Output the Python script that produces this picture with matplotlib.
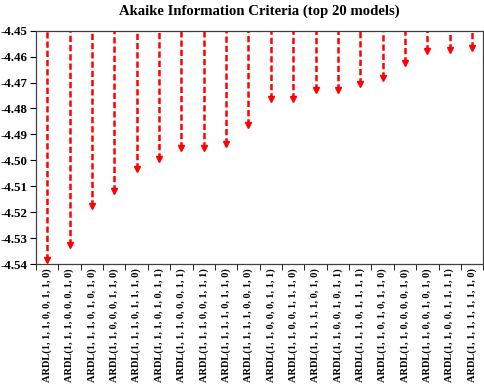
import numpy as np
from matplotlib import pyplot as plt

#=============+
# Chart data  |
#=============+
models = ['ARDL(1, 1, 1, 0, 0, 1, 1, 0)', 'ARDL(1, 1, 1, 0, 0, 0, 1, 0)',
          'ARDL(1, 1, 1, 0, 1, 0, 1, 0)', 'ARDL(1, 1, 0, 0, 0, 1, 1, 0)',
          'ARDL(1, 1, 1, 0, 1, 1, 1, 0)', 'ARDL(1, 1, 1, 0, 1, 0, 1, 1)',
          'ARDL(1, 1, 1, 0, 0, 0, 1, 1)', 'ARDL(1, 1, 1, 0, 0, 1, 1, 1)',
          'ARDL(1, 1, 1, 1, 0, 1, 1, 0)', 'ARDL(1, 1, 1, 1, 0, 0, 1, 0)',
          'ARDL(1, 1, 0, 0, 0, 1, 1, 1)', 'ARDL(1, 1, 0, 0, 1, 1, 1, 0)',
          'ARDL(1, 1, 1, 1, 1, 0, 1, 0)', 'ARDL(1, 1, 0, 0, 1, 0, 1, 1)',
          'ARDL(1, 1, 1, 0, 1, 1, 1, 1)', 'ARDL(1, 1, 0, 1, 0, 1, 1, 0)',
          'ARDL(1, 1, 0, 0, 0, 0, 1, 0)', 'ARDL(1, 1, 0, 0, 1, 0, 1, 0)',
          'ARDL(1, 1, 0, 0, 1, 1, 1, 1)', 'ARDL(1, 1, 1, 1, 1, 1, 1, 0)']
aic = [-4.5385, -4.5325, -4.5177, -4.5119, -4.5033, -4.4993, -4.4952, -4.4953,
       -4.4936, -4.4862, -4.4765, -4.4762, -4.4729, -4.4728, -4.4704, -4.4682,
       -4.4625, -4.4578, -4.4573, -4.4569]
yticks = [-4.45, -4.46, -4.47, -4.48, -4.49, -4.50, -4.51, -4.52, -4.53, -4.54]
top = -4.45

#================+
# Graph Plotting |
#================+
plt.rcParams['font.family'] = 'Liberation Serif'
plt.rcParams['font.weight'] = 'bold'

fig = plt.figure(figsize=(4.84, 3.87), dpi=100)
ax = fig.add_axes([0.0744, 0.317, 0.924, 0.604])

x = np.arange(len(models))
ax.vlines(x, aic, top, colors='red', linestyles=(0, (2.5, 1.2)), linewidth=1.8)
ax.plot(x, aic, linestyle='none', marker='v', color='red', markersize=4.5)

ax.set_xlim(-0.5, len(models) - 0.5)
ax.set_ylim(-4.54, -4.45)
ax.set_yticks(yticks)
ax.set_yticklabels(['%.2f' % t for t in yticks], fontsize=9.3, fontweight='bold')

# labels at category centres, ticks on the boundaries
ax.set_xticks(x)
ax.set_xticklabels(models, rotation=90, fontsize=7.5, fontweight='bold')
ax.tick_params(axis='x', which='major', length=0, pad=3)
ax.set_xticks(np.arange(len(models) + 1) - 0.5, minor=True)
ax.tick_params(axis='x', which='minor', length=4, direction='out')
ax.tick_params(axis='y', length=4, direction='out', pad=2)

for s in ax.spines.values():
    s.set_linewidth(0.9)
    s.set_color('#404040')

ax.set_title('Akaike Information Criteria (top 20 models)', fontsize=10.6,
             fontweight='bold', pad=11)

plt.savefig('out.png', dpi=100)
